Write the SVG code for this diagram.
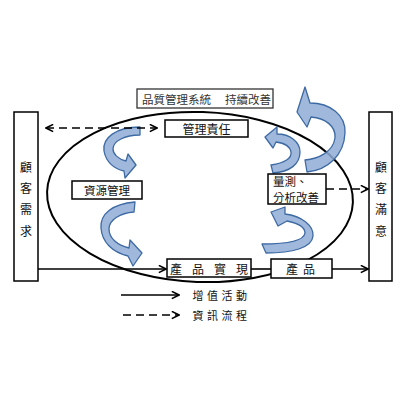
<svg xmlns="http://www.w3.org/2000/svg" width="410" height="410" viewBox="0 0 410 410">
<defs>
<style>
.box{fill:#fff;stroke:#000;stroke-width:1.5}
.t{font-family:'Noto Sans CJK TC','Noto Sans CJK SC',sans-serif;font-size:12px;fill:#111;dominant-baseline:central}
.c{text-anchor:middle}
.ln{stroke:#000;stroke-width:1.6;fill:none}
.dash{stroke-dasharray:8 5}
.ba{fill:#8fabd6;fill-opacity:0.85;stroke:#3d6aa3;stroke-width:1.3;stroke-linejoin:round}
</style>
<marker id="ah" viewBox="0 0 10 10" refX="9" refY="5" markerWidth="9" markerHeight="9" markerUnits="userSpaceOnUse" orient="auto-start-reverse">
<path d="M1,1 L9,5 L1,9" fill="none" stroke="#000" stroke-width="1.8"/>
</marker>
</defs>
<rect width="410" height="410" fill="#fff"/>

<ellipse cx="200" cy="197" rx="153" ry="85" fill="none" stroke="#000" stroke-width="2" transform="rotate(2 200 197)"/>

<g id="cycle-arrows">
<path class="ba" d="M140,127 C116,127 102,138 104,151 C106,162 114,169 124,171 L125,178 L136,165 L128,154 L126,161 C118,159 113,154 113,149 C113,141 125,135 140,135 Z"/>
<path class="ba" d="M135,202 C112,204 100,214 101,228 C102,242 112,252 128,256 L133,266 L142,253 L130,240 L129,248 C117,245 109,238 109,229 C109,220 120,213 134,212 Z"/>
<path class="ba" d="M262,244 C285,244 304,241 305,233 C305,227 297,223 287,221 L278,226 L271,212 L285,207 L285,214 C302,216 314,226 313,236 C312,248 292,253 266,253 Z"/>
<path class="ba" d="M271,165 C285,163 292,158 291,152 C290,146 284,143 276,142 L273,148 L265,137 L277,127 L277,134 C290,134 300,142 300,152 C300,164 290,172 273,173 Z"/>
<path class="ba" d="M305,160 C318,159 333,152 335,138 C336,126 325,118 311,117 L307,127 L297,112 L305,87 L310,103 C330,103 346,115 345,133 C344,155 328,170 307,172 Z"/>
</g>

<g id="title">
<rect x="137" y="89" width="136" height="19" fill="#fff" stroke="#333" stroke-width="1.3"/>
<text class="t" x="142" y="99" style="font-size:11.5px;fill:#333">品質管理系統</text>
<text class="t" x="225" y="99" style="font-size:11.5px;fill:#333">持續改善</text>
</g>

<g id="customer-req">
<rect class="box" x="14" y="112" width="24" height="169"/>
<text class="t c" x="26" y="166">顧</text>
<text class="t c" x="26" y="187">客</text>
<text class="t c" x="26" y="208">需</text>
<text class="t c" x="26" y="230">求</text>
</g>

<g id="customer-sat">
<rect class="box" x="369" y="112" width="23" height="169"/>
<text class="t c" x="381" y="166">顧</text>
<text class="t c" x="381" y="187">客</text>
<text class="t c" x="381" y="208">滿</text>
<text class="t c" x="381" y="230">意</text>
</g>

<g id="mgmt">
<rect class="box" x="165" y="120" width="83" height="17"/>
<text class="t c" x="206.5" y="128.5">管理責任</text>
</g>

<g id="resource">
<rect class="box" x="72" y="181" width="70" height="18"/>
<text class="t c" x="107" y="190" style="font-size:11.5px">資源管理</text>
</g>

<g id="measure">
<rect class="box" x="268" y="174" width="58" height="30"/>
<text class="t" x="273" y="181" style="font-size:11.5px">量測、</text>
<text class="t" x="273" y="197" style="font-size:11.5px">分析改善</text>
</g>

<g id="realization">
<rect class="box" x="167" y="259" width="84" height="18"/>
<text class="t c" x="176" y="268">產</text>
<text class="t c" x="198" y="268">品</text>
<text class="t c" x="220" y="268">實</text>
<text class="t c" x="242" y="268">現</text>
</g>

<g id="product">
<rect class="box" x="271" y="259" width="61" height="19"/>
<text class="t c" x="292" y="268">產</text>
<text class="t c" x="309" y="268">品</text>
</g>

<g id="connectors">
<line class="ln dash" x1="46" y1="128" x2="157" y2="128" marker-start="url(#ah)" marker-end="url(#ah)"/>
<line class="ln dash" x1="326" y1="189" x2="368" y2="189" marker-end="url(#ah)"/>
<line class="ln" x1="38" y1="269" x2="166" y2="269" marker-end="url(#ah)"/>
<line class="ln" x1="251" y1="269" x2="271" y2="269"/>
<line class="ln" x1="332" y1="269" x2="368" y2="269" marker-end="url(#ah)"/>
</g>

<g id="legend">
<line class="ln" x1="121" y1="295" x2="179" y2="295" marker-end="url(#ah)"/>
<line class="ln dash" x1="123" y1="315" x2="179" y2="315" marker-end="url(#ah)"/>
<text class="t c" x="198" y="295" style="font-size:11px">增</text>
<text class="t c" x="212.5" y="295" style="font-size:11px">值</text>
<text class="t c" x="227" y="295" style="font-size:11px">活</text>
<text class="t c" x="241.5" y="295" style="font-size:11px">動</text>
<text class="t c" x="198" y="315" style="font-size:11px">資</text>
<text class="t c" x="212.5" y="315" style="font-size:11px">訊</text>
<text class="t c" x="227" y="315" style="font-size:11px">流</text>
<text class="t c" x="241.5" y="315" style="font-size:11px">程</text>
</g>
</svg>
